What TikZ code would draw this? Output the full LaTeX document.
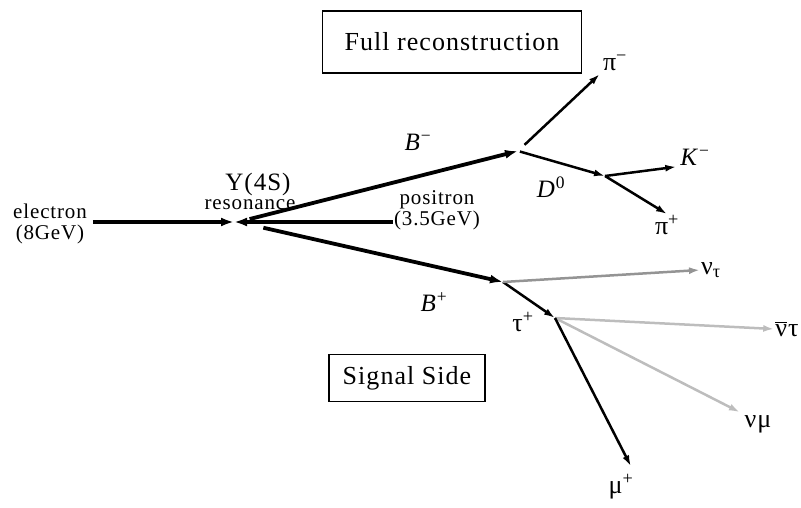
\documentclass[tikz,border=0pt]{standalone}
\usepackage{fontspec}
\setmainfont{Liberation Serif}[LetterSpace=4]
\usepackage{xcolor}
\usetikzlibrary{arrows.meta}
\definecolor{nudark}{gray}{0.58}
\definecolor{nulight}{gray}{0.74}

\begin{document}
\begin{tikzpicture}[x=1pt, y=-1pt,
    beam/.style={line width=3.8pt, -{Latex[length=13pt, width=9pt]}},
    decay/.style={line width=2.5pt, -{Latex[length=11pt, width=7pt]}},
    lbl/.style={inner sep=1pt, font=\fontsize{21}{21}\selectfont},
    greek/.style={inner sep=1pt, font=\fontsize{26}{26}\selectfont},
    biglbl/.style={inner sep=1pt, font=\fontsize{25}{25}\selectfont},
    boxlbl/.style={draw, line width=1.6pt, font=\fontsize{26}{26}\selectfont}]
    \useasboundingbox (0,0) rectangle (801,508);

    % Boxes
    \node[boxlbl, minimum width=259pt, minimum height=62pt] (fullbox) at (452,42) {Full reconstruction};
    \node[boxlbl, minimum width=156pt, minimum height=47pt] (sigbox) at (407,378) {Signal Side};

    % Beams meeting at the Y(4S)
    \coordinate (ups) at (238,222);
    \node[lbl, align=center] (ele) at (50,224) {electron\\(8GeV)};
    \node[lbl, align=center] (pos) at (437,210) {positron\\(3.5GeV)};
    \draw[beam, shorten <=5pt, shorten >=4pt] (ele.east |- ups) -- (ups);
    \draw[beam, shorten >=-4pt] (pos.west |- ups) -- (ups);
    \node[biglbl] (ylab) at (258,184) {Υ(4S)};
    \node[lbl] (reso) at (250,205) {resonance};

    % B mesons
    \coordinate (bm) at (518,151);
    \coordinate (bp) at (503,282);
    \draw[beam, shorten <=12pt] (ups) -- (bm);
    \draw[beam, shorten <=26pt] (ups) -- (bp);
    \node[biglbl] (bmlab) at (418,142) {\textit{B}\textsuperscript{−}};
    \node[biglbl] (bplab) at (434,302) {\textit{B}\textsuperscript{+}};

    % Full reconstruction side
    \coordinate (dz) at (605,176);
    \node[greek] (pim) at (615,63) {π\textsuperscript{−}};
    \draw[decay, shorten <=9pt, shorten >=3pt] (bm) -- (pim.south west);
    \draw[decay, shorten <=2pt] (bm) -- (dz);
    \node[biglbl] (dlab) at (551,187) {\textit{D}\textsuperscript{0}};
    \node[biglbl] (km) at (695,157) {\textit{K}\textsuperscript{−}};
    \draw[decay, shorten >=3pt] (dz) -- (km.south west);
    \node[greek] (pip) at (667,225) {π\textsuperscript{+}};
    \draw[decay] (dz) -- (pip.north);

    % Signal side
    \coordinate (tau) at (555,318);
    \draw[decay] (bp) -- (tau);
    \node[greek] (taulab) at (523,322) {τ\textsuperscript{+}};
    \node[greek] (nut) at (711,270) {ν\textsubscript{τ}};
    \draw[decay, nudark] (bp) -- (nut.west);
    \node[greek] (nutb) at (787,329) {\rlap{\rule[0.52em]{0.46em}{1.2pt}}ντ};
    \draw[decay, nulight] (tau) -- (nutb.west);
    \node[greek] (num) at (758,424) {νμ};
    \draw[decay, nulight, shorten >=4pt] (tau) -- (num.north west);
    \node[greek] (mup) at (621,487) {μ\textsuperscript{+}};
    \draw[decay, shorten >=8pt] (tau) -- (mup.north east);

\end{tikzpicture}
\end{document}
